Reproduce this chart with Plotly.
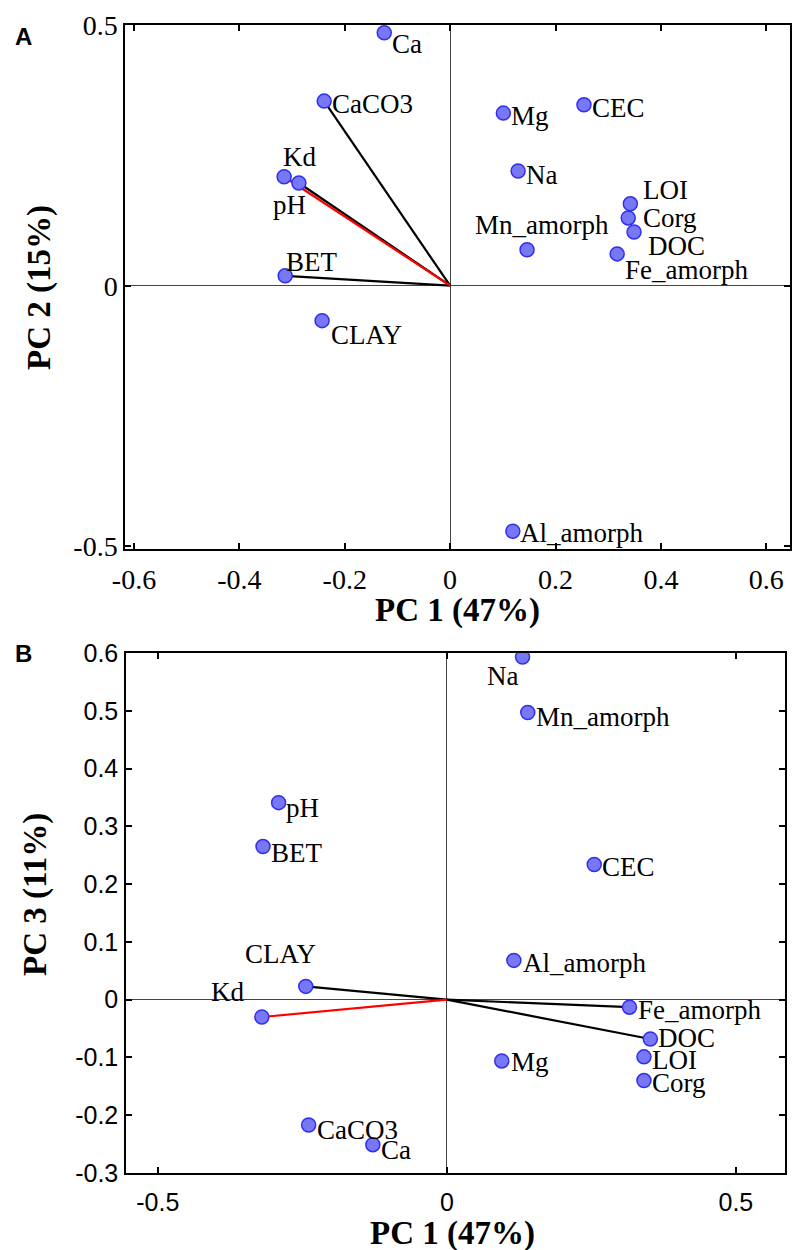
import plotly.graph_objects as go

# ---------------- data ----------------
variables = ["Ca", "CaCO3", "Kd", "pH", "BET", "CLAY", "Al_amorph", "Mg", "CEC",
             "Na", "LOI", "Corg", "DOC", "Mn_amorph", "Fe_amorph"]

# Panel A: PC1 vs PC2
pc1_a = [-0.125, -0.239, -0.315, -0.287, -0.313, -0.243, 0.119, 0.101, 0.254,
         0.129, 0.342, 0.338, 0.349, 0.146, 0.317]
pc2_a = [0.485, 0.354, 0.209, 0.197, 0.019, -0.067, -0.471, 0.331, 0.347,
         0.220, 0.157, 0.130, 0.103, 0.069, 0.061]

# Panel B: PC1 vs PC3
pc1_b = [-0.128, -0.239, -0.320, -0.291, -0.318, -0.244, 0.116, 0.095, 0.255,
         0.131, 0.341, 0.341, 0.352, 0.140, 0.316]
pc3_b = [-0.251, -0.217, -0.030, 0.341, 0.265, 0.023, 0.068, -0.106, 0.234,
         0.593, -0.099, -0.140, -0.068, 0.497, -0.013]

# loading vectors drawn from the origin (highlighted one drawn last)
vectors_a = ["CaCO3", "pH", "BET", "Kd"]
vectors_b = ["CLAY", "Fe_amorph", "DOC", "Kd"]
highlight = "Kd"

# tick labels
xticks_a = [-0.6, -0.4, -0.2, 0, 0.2, 0.4, 0.6]
xticktext_a = ["-0.6", "-0.4", "-0.2", "0", "0.2", "0.4", "0.6"]
yticks_a = [-0.5, 0, 0.5]
yticktext_a = ["-0.5", "0", "0.5"]
xticks_b = [-0.5, 0, 0.5]
xticktext_b = ["-0.5", "0", "0.5"]
yticks_b = [-0.3, -0.2, -0.1, 0, 0.1, 0.2, 0.3, 0.4, 0.5, 0.6]
yticktext_b = ["-0.3", "-0.2", "-0.1", "0", "0.1", "0.2", "0.3", "0.4", "0.5", "0.6"]

title_x = "PC 1 (47%)"
title_ya = "PC 2 (15%)"
title_yb = "PC 3 (11%)"

# ---------------- styles ----------------
W, H = 792, 1250
SERIF = "Liberation Serif, Times New Roman, serif"
SANS = "Liberation Sans, Arial, sans-serif"
MARK_FILL = "#7878f6"
MARK_EDGE = "#2f2ff0"

# label placement: (xanchor, xshift, yshift)
lab_a = {
    "Ca": ("left", 6, -11), "CaCO3": ("left", 6, -3), "Kd": ("left", -3, 20),
    "pH": ("right", 9, -22), "BET": ("left", -1, 14), "CLAY": ("left", 7, -14),
    "Al_amorph": ("left", 5, -2), "Mg": ("left", 6, -3), "CEC": ("left", 6, -3),
    "Na": ("left", 6, -4), "LOI": ("left", 11, 14), "Corg": ("left", 13, 0),
    "DOC": ("left", 12, -14), "Mn_amorph": ("right", 84, 25),
    "Fe_amorph": ("left", 6, -16),
}
lab_b = {
    "Ca": ("left", 6, -5), "CaCO3": ("left", 6, -5), "Kd": ("right", -16, 25),
    "pH": ("left", 5, -5), "BET": ("left", 6, -6), "CLAY": ("right", 12, 32),
    "Al_amorph": ("left", 7, -3), "Mg": ("left", 7, -1), "CEC": ("left", 6, -3),
    "Na": ("right", -3, -19), "LOI": ("left", 6, -3), "Corg": ("left", 6, -2),
    "DOC": ("left", 6, 1), "Mn_amorph": ("left", 6, -4),
    "Fe_amorph": ("left", 6, -3),
}

fig = go.Figure()


def add_panel(xs, ys, vecs, labels, xa, ya):
    idx = {v: i for i, v in enumerate(variables)}
    for v in vecs:
        i = idx[v]
        fig.add_trace(go.Scatter(
            x=[0, xs[i]], y=[0, ys[i]], mode="lines",
            line=dict(color="#ff0000" if v == highlight else "#000000", width=2.2),
            xaxis=xa, yaxis=ya, showlegend=False, hoverinfo="skip"))
    fig.add_trace(go.Scatter(
        x=xs, y=ys, mode="markers", text=variables,
        marker=dict(size=14, color=MARK_FILL, line=dict(color=MARK_EDGE, width=1.5)),
        xaxis=xa, yaxis=ya, showlegend=False))
    for i, v in enumerate(variables):
        anc, dx, dy = labels[v]
        fig.add_annotation(
            x=xs[i], y=ys[i], xref=xa, yref=ya, text=v, showarrow=False,
            xanchor=anc, yanchor="middle", xshift=dx, yshift=dy,
            font=dict(family=SERIF, size=27, color="black"))


add_panel(pc1_a, pc2_a, vectors_a, lab_a, "x", "y")
add_panel(pc1_b, pc3_b, vectors_b, lab_b, "x2", "y2")

axis_common = dict(
    showline=True, linecolor="black", linewidth=1.5, mirror="allticks",
    ticks="inside", ticklen=6, tickwidth=1.5, tickcolor="black",
    showgrid=False, zeroline=True, zerolinecolor="#444444", zerolinewidth=1,
    automargin=False,
)

fig.update_layout(
    template="none",
    width=W, height=H, margin=dict(l=0, r=0, t=0, b=0),
    paper_bgcolor="white", plot_bgcolor="white", showlegend=False,
    xaxis=dict(domain=[125 / W, 790 / W], range=[-0.617, 0.645], anchor="y",
               tickvals=xticks_a, ticktext=xticktext_a, ticklabelstandoff=5,
               tickfont=dict(family=SERIF, size=28, color="black"), **axis_common),
    yaxis=dict(domain=[1 - 549 / H, 1 - 25 / H], range=[-0.505, 0.5], anchor="x",
               tickvals=yticks_a, ticktext=yticktext_a, ticklabelstandoff=0,
               tickfont=dict(family=SERIF, size=28, color="black"), **axis_common),
    xaxis2=dict(domain=[126 / W, 785 / W], range=[-0.555, 0.585], anchor="y2",
                tickvals=xticks_b, ticktext=xticktext_b, ticklabelstandoff=6,
                tickfont=dict(family=SANS, size=25, color="black"), **axis_common),
    yaxis2=dict(domain=[1 - 1173 / H, 1 - 653 / H], range=[-0.3, 0.6], anchor="x2",
                tickvals=yticks_b, ticktext=yticktext_b, ticklabelstandoff=1,
                tickfont=dict(family=SANS, size=25, color="black"), **axis_common),
)

# axis titles and panel letters (paper coordinates)
def paper_text(txt, px, py, font, angle=0):
    fig.add_annotation(x=px / W, y=1 - py / H, xref="paper", yref="paper",
                       text=txt, showarrow=False, xanchor="center", yanchor="middle",
                       textangle=angle, font=font)

title_font = dict(family=SERIF, size=33, color="black")
paper_text("<b>" + title_x + "</b>", 457, 610, title_font)
paper_text("<b>" + title_ya + "</b>", 40, 288, title_font, -90)
paper_text("<b>" + title_x + "</b>", 452, 1233, title_font)
paper_text("<b>" + title_yb + "</b>", 35, 895, title_font, -90)
letter_font = dict(family=SANS, size=24, color="black")
paper_text("<b>A</b>", 23, 36, letter_font)
paper_text("<b>B</b>", 23, 653, letter_font)

fig.write_html("out.html")
